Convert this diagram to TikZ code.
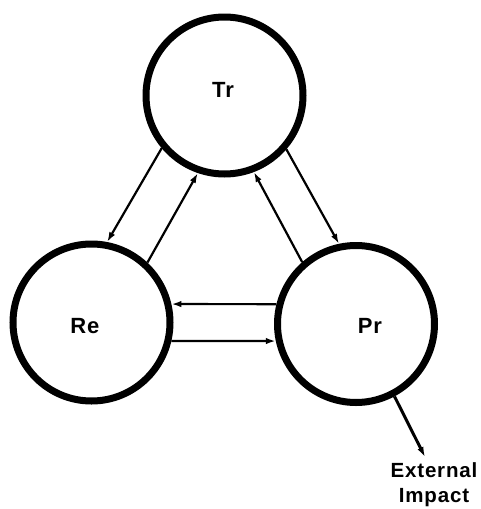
\documentclass[tikz,border=0pt]{standalone}
\usepackage{fontspec}
\setmainfont{Liberation Sans}[LetterSpace=4]
\usetikzlibrary{arrows.meta}

\begin{document}
\begin{tikzpicture}[x=1pt,y=-1pt,
  ring/.style={draw, circle, line width=7pt, minimum size=157pt, inner sep=0pt},
  lbl/.style={font=\fontsize{22}{22}\selectfont\bfseries},
  flow/.style={line width=2.2pt, -{Latex[length=10pt,width=6.5pt]}},
  ext/.style={font=\fontsize{20.5}{25}\selectfont\bfseries, align=center, inner sep=0pt}]

\useasboundingbox (0,0) rectangle (481,509);

% circles
\node[ring, label={[lbl, xshift=-1.5pt, yshift=6pt]center:Tr}] (tr) at (224.5,95.5) {};
\node[ring, label={[lbl, xshift=-6.5pt, yshift=-3.5pt]center:Re}] (re) at (91.5,322.5) {};
\node[ring, label={[lbl, xshift=14pt, yshift=-2pt]center:Pr}] (pr) at (356,324) {};

% Tr - Re
\draw[flow] (tr.220) -- (re.79);
\draw[flow] (re.47) -- (tr.251);

% Tr - Pr
\draw[flow] (pr.131) -- (tr.291);
\draw[flow] (tr.319) -- (pr.102);

% Re - Pr
\draw[flow] (pr.166) -- (re.13);
\draw[flow] (re.-13) -- (pr.192);

% impact
\coordinate (imp) at (425,457);
\draw[flow, line width=3pt] (pr.298) -- (imp);
\node[ext] (extimp) at (434,485) {External\\Impact};

\end{tikzpicture}
\end{document}
